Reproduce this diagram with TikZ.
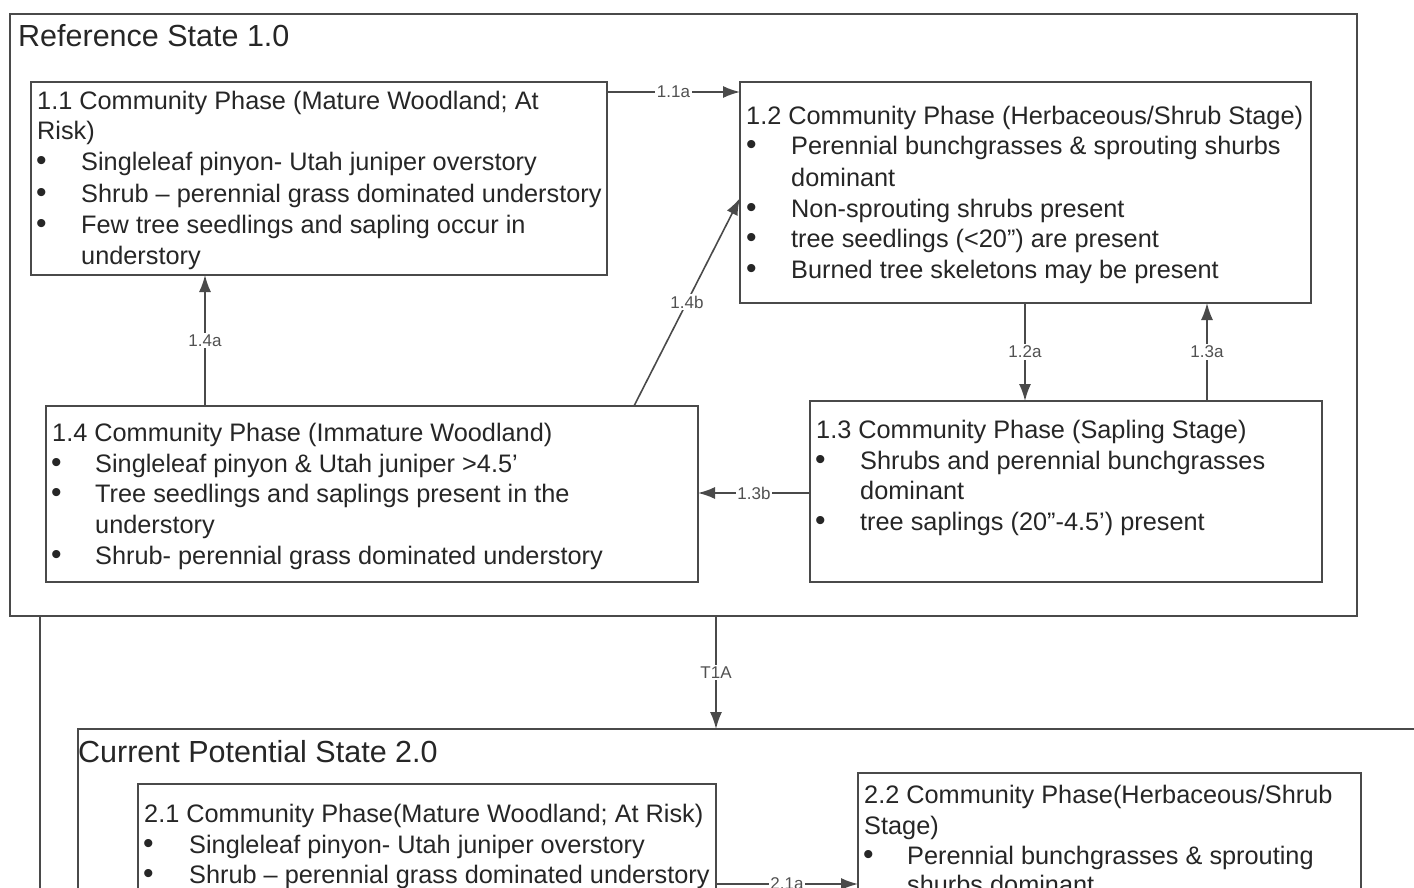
\documentclass[tikz,border=0pt]{standalone}
\usepackage{fontspec}
\setmainfont{Liberation Sans}
\usetikzlibrary{arrows.meta}
\definecolor{ink}{HTML}{262626}
\definecolor{edge}{HTML}{4A4A4A}
\tikzset{
  box/.style={draw=edge, line width=1.7pt, rectangle, inner sep=0pt, outer sep=0pt, anchor=north west},
  txt/.style={anchor=base west, inner sep=0pt, text=ink, font=\fontsize{25.3}{30}\selectfont},
  ttl/.style={anchor=base west, inner sep=0pt, text=ink, font=\fontsize{30.5}{34}\selectfont},
  bul/.style={anchor=base west, inner sep=0pt, text=ink, font=\fontsize{30}{30}\selectfont},
  lbl/.style={fill=white, inner sep=1.5pt, text=ink!80, font=\fontsize{17}{17}\selectfont},
  arr/.style={draw=edge, line width=1.6pt, -{Latex[length=17pt,width=12pt]}},
  ln/.style={draw=edge, line width=1.6pt}
}
\begin{document}
\begin{tikzpicture}[x=1pt,y=-1pt]
\clip (0,0) rectangle (1414,888);
\fill[white] (0,0) rectangle (1414,888);
% State boxes
\node[box, minimum width=1347pt, minimum height=602pt] (s1) at (10,14) {};
\node[ttl] (s1t) at (18,47) {Reference State 1.0};
\node[box, minimum width=1400pt, minimum height=300pt] (s2) at (78,729) {};
\node[ttl] (s2t) at (78,762) {Current Potential State 2.0};
% Phase boxes
\node[box, minimum width=576pt, minimum height=193pt] (b11) at (31,82) {};
\node[box, minimum width=571pt, minimum height=221pt] (b12) at (740,82) {};
\node[box, minimum width=652pt, minimum height=176pt] (b14) at (46,406) {};
\node[box, minimum width=512pt, minimum height=181pt] (b13) at (810,401) {};
\node[box, minimum width=578pt, minimum height=200pt] (b21) at (138,784) {};
\node[box, minimum width=503pt, minimum height=200pt] (b22) at (858,773) {};
% 1.1 text
\node[txt] (t11a) at (37,110) {1.1 Community Phase (Mature Woodland; At};
\node[txt] (t11b) at (37,140) {Risk)};
\node[bul] (u11a) at (36,171) {•};
\node[txt] (t11c) at (81,171) {Singleleaf pinyon- Utah juniper overstory};
\node[bul] (u11b) at (36,202) {•};
\node[txt] (t11d) at (81,202) {Shrub – perennial grass dominated understory};
\node[bul] (u11c) at (36,233) {•};
\node[txt] (t11e) at (81,233) {Few tree seedlings and sapling occur in};
\node[txt] (t11f) at (81,264) {understory};
% 1.2 text
\node[txt] (t12a) at (746,125) {1.2 Community Phase (Herbaceous/Shrub Stage)};
\node[bul] (u12a) at (746,155) {•};
\node[txt] (t12b) at (791,155) {Perennial bunchgrasses \& sprouting shurbs};
\node[txt] (t12c) at (791,186) {dominant};
\node[bul] (u12b) at (746,217) {•};
\node[txt] (t12d) at (791,217) {Non-sprouting shrubs present};
\node[bul] (u12c) at (746,247) {•};
\node[txt] (t12e) at (791,247) {tree seedlings (<20") are present};
\node[bul] (u12d) at (746,278) {•};
\node[txt] (t12f) at (791,278) {Burned tree skeletons may be present};
% 1.4 text
\node[txt] (t14a) at (52,441) {1.4 Community Phase (Immature Woodland)};
\node[bul] (u14a) at (51,472) {•};
\node[txt] (t14b) at (95,472) {Singleleaf pinyon \& Utah juniper >4.5'};
\node[bul] (u14b) at (51,502) {•};
\node[txt] (t14c) at (95,502) {Tree seedlings and saplings present in the};
\node[txt] (t14d) at (95,533) {understory};
\node[bul] (u14c) at (51,564) {•};
\node[txt] (t14e) at (95,564) {Shrub- perennial grass dominated understory};
% 1.3 text
\node[txt] (t13a) at (816,438) {1.3 Community Phase (Sapling Stage)};
\node[bul] (u13a) at (815,469) {•};
\node[txt] (t13b) at (860,469) {Shrubs and perennial bunchgrasses};
\node[txt] (t13c) at (860,499) {dominant};
\node[bul] (u13b) at (815,530) {•};
\node[txt] (t13d) at (860,530) {tree saplings (20"-4.5') present};
% 2.1 text
\node[txt] (t21a) at (144,822) {2.1 Community Phase(Mature Woodland; At Risk)};
\node[bul] (u21a) at (143,853) {•};
\node[txt] (t21b) at (189,853) {Singleleaf pinyon- Utah juniper overstory};
\node[bul] (u21b) at (143,883) {•};
\node[txt] (t21c) at (189,883) {Shrub – perennial grass dominated understory};
% 2.2 text
\node[txt] (t22a) at (864,803) {2.2 Community Phase(Herbaceous/Shrub};
\node[txt] (t22b) at (864,834) {Stage)};
\node[bul] (u22a) at (863,864) {•};
\node[txt] (t22c) at (907,864) {Perennial bunchgrasses \& sprouting};
\node[txt] (t22d) at (907,893) {shurbs dominant};
% connectors
\draw[arr] ([yshift=-10pt]b11.north east) -- node[lbl] (l11a) {1.1a} ([yshift=-10pt]b12.north west);
\draw[arr] ([xshift=159pt]b14.north west) -- node[lbl] (l14a) {1.4a} ([xshift=174pt]b11.south west);
\draw[arr] ([xshift=588pt]b14.north west) -- node[lbl] (l14b) {1.4b} ([yshift=-116pt]b12.north west);
\draw[arr] ([xshift=285pt]b12.south west) -- node[lbl] (l12a) {1.2a} ([xshift=215pt]b13.north west);
\draw[arr] ([xshift=397pt]b13.north west) -- node[lbl] (l13a) {1.3a} ([xshift=467pt]b12.south west);
\draw[arr] ([yshift=-92pt]b13.north west) -- node[lbl] (l13b) {1.3b} ([yshift=-87pt]b14.north east);
\draw[arr] ([xshift=706pt]s1.south west) -- node[lbl] (lt1a) {T1A} ([xshift=638pt]s2.north west);
\draw[arr] ([yshift=-100pt]b21.north east) -- node[lbl] (l21a) {2.1a} ([yshift=-111pt]b22.north west);
\coordinate (lend) at (40,900);
\draw[ln] ([xshift=30pt]s1.south west) -- (lend);
\end{tikzpicture}
\end{document}
